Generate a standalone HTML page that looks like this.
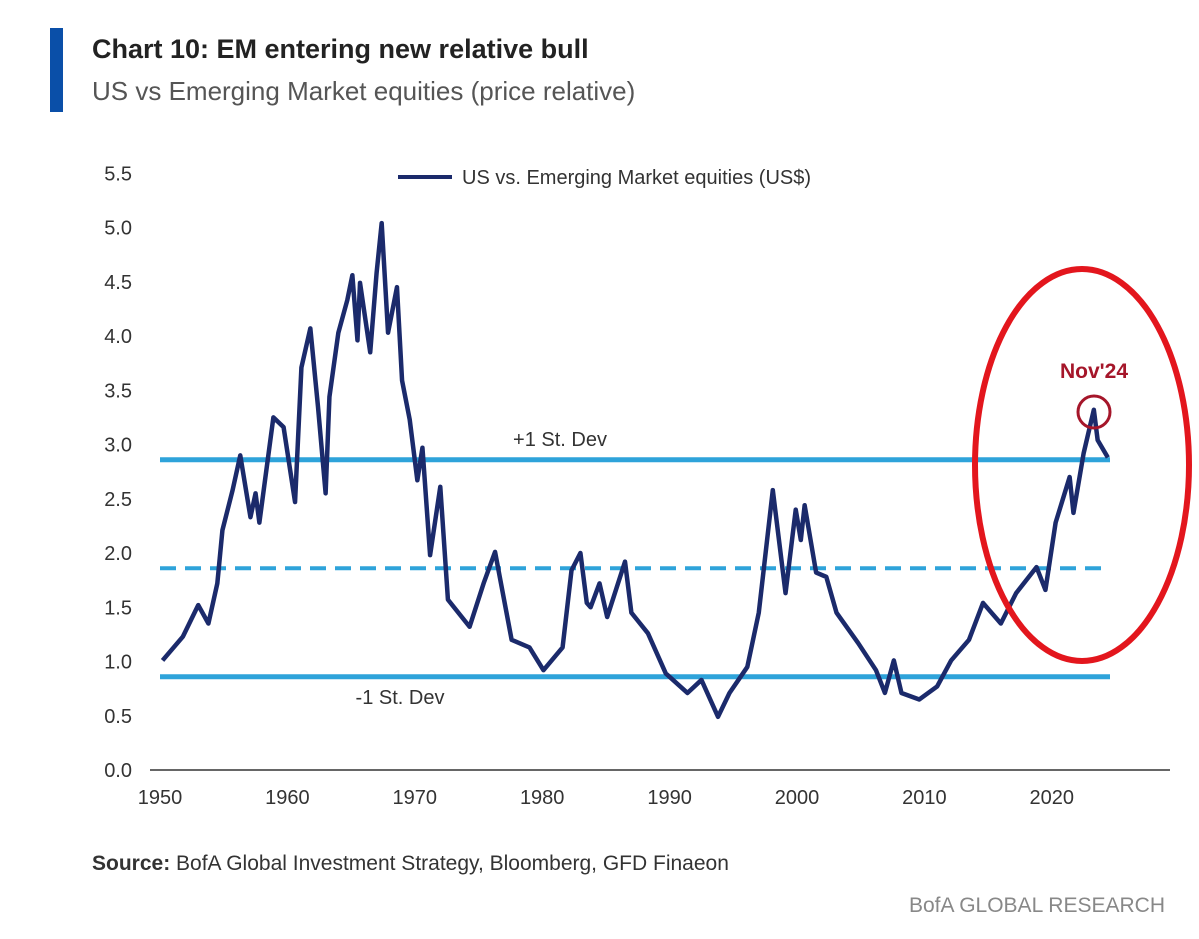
<!DOCTYPE html>
<html><head><meta charset="utf-8"><style>
body{margin:0;background:#fff;width:1199px;height:939px;overflow:hidden;font-family:"Liberation Sans",sans-serif}
svg{display:block}
</style></head><body>
<svg id="chart" width="1199" height="939">
<rect x="50" y="28" width="13" height="84" fill="#0a4fa8"/>
<text x="92" y="58" font-size="27" font-weight="bold" fill="#222">Chart 10: EM entering new relative bull</text>
<text x="92" y="100" font-size="26" fill="#555">US vs Emerging Market equities (price relative)</text>
<line x1="398" y1="177" x2="452" y2="177" stroke="#1b2a6b" stroke-width="4"/>
<text x="462" y="184" font-size="20" fill="#333">US vs. Emerging Market equities (US$)</text>
<g id="yaxis"></g><g id="xaxis"></g><g id="refs"></g><g id="series"></g>
<text x="560" y="446" font-size="20" fill="#333" text-anchor="middle">+1 St. Dev</text>
<text x="400" y="704" font-size="20" fill="#333" text-anchor="middle">-1 St. Dev</text>
<ellipse cx="1082" cy="465" rx="107" ry="196" fill="none" stroke="#e3161d" stroke-width="6"/>
<circle cx="1094" cy="412" r="16" fill="none" stroke="#a5162a" stroke-width="3"/>
<text x="1094" y="378" font-size="21" font-weight="bold" fill="#a5162a" text-anchor="middle">Nov'24</text>
<text x="92" y="870" font-size="21" fill="#333"><tspan font-weight="bold">Source:</tspan> BofA Global Investment Strategy, Bloomberg, GFD Finaeon</text>
<text x="1165" y="912" font-size="21" fill="#888" text-anchor="end">BofA GLOBAL RESEARCH</text>
</svg>
<script>
const yTicks=["0.0","0.5","1.0","1.5","2.0","2.5","3.0","3.5","4.0","4.5","5.0","5.5"];
const xTicks=[1950,1960,1970,1980,1990,2000,2010,2020];
const refValues=[2.86,1.86,0.86];
const years=[1950.2,1951.8,1953.0,1953.8,1954.5,1954.9,1955.7,1956.3,1957.1,1957.5,1957.8,1958.9,1959.7,1960.6,1961.1,1961.8,1962.4,1963.0,1963.3,1964.0,1964.7,1965.1,1965.5,1965.7,1966.5,1967.0,1967.4,1967.9,1968.6,1969.0,1969.6,1970.2,1970.6,1971.2,1972.0,1972.6,1974.3,1975.4,1976.3,1977.6,1979.0,1980.1,1981.6,1982.3,1983.0,1983.5,1983.8,1984.5,1985.1,1986.5,1987.0,1988.3,1989.7,1991.4,1992.5,1993.8,1994.7,1996.1,1997.0,1998.1,1999.1,1999.9,2000.3,2000.6,2001.5,2002.3,2003.1,2004.8,2006.2,2006.9,2007.6,2008.2,2009.6,2011.0,2012.1,2013.5,2014.6,2016.0,2017.2,2018.8,2019.5,2020.3,2021.4,2021.7,2022.5,2023.3,2023.6,2024.4];
const values=[1.01,1.23,1.52,1.35,1.72,2.21,2.58,2.9,2.33,2.55,2.28,3.25,3.16,2.47,3.71,4.07,3.35,2.55,3.44,4.03,4.33,4.56,3.96,4.49,3.85,4.58,5.04,4.03,4.45,3.59,3.23,2.67,2.97,1.98,2.61,1.57,1.32,1.72,2.01,1.2,1.13,0.92,1.13,1.84,2.0,1.54,1.5,1.72,1.41,1.92,1.45,1.26,0.89,0.71,0.83,0.49,0.71,0.95,1.45,2.58,1.63,2.4,2.12,2.44,1.82,1.78,1.45,1.17,0.92,0.71,1.01,0.71,0.65,0.77,1.01,1.2,1.54,1.35,1.63,1.87,1.66,2.28,2.7,2.37,2.92,3.32,3.04,2.88];
const NS="http://www.w3.org/2000/svg";
const X=y=>160+(y-1950)*12.74;
const Y=v=>770-v*108.5;
function mk(tag,attrs,parent){const e=document.createElementNS(NS,tag);for(const k in attrs)e.setAttribute(k,attrs[k]);parent.appendChild(e);return e;}
const ya=document.getElementById('yaxis'),xa=document.getElementById('xaxis'),rf=document.getElementById('refs'),sr=document.getElementById('series');
yTicks.forEach(t=>{const e=mk('text',{x:132,y:Y(+t)+7,'font-size':20,fill:'#333','text-anchor':'end'},ya);e.textContent=t;

});
const ax=mk('line',{x1:150,y1:770,x2:1170,y2:770,stroke:'#333','stroke-width':1.5},xa);


xTicks.forEach(t=>{const e=mk('text',{x:X(t),y:804,'font-size':20,fill:'#333','text-anchor':'middle'},xa);e.textContent=t;

});
refValues.forEach((v,i)=>{const l=mk('line',{x1:160,y1:Y(v),x2:1110,y2:Y(v),stroke:'#2ea3da','stroke-width':5},rf);
if(i===1){l.setAttribute('stroke-dasharray','16 9');l.setAttribute('stroke-width',4);}

});
const p=mk('polyline',{points:years.map((y,i)=>X(y)+','+Y(values[i])).join(' '),fill:'none',stroke:'#1b2a6b','stroke-width':4.5,'stroke-linejoin':'round'},sr);


</script>
</body></html>
